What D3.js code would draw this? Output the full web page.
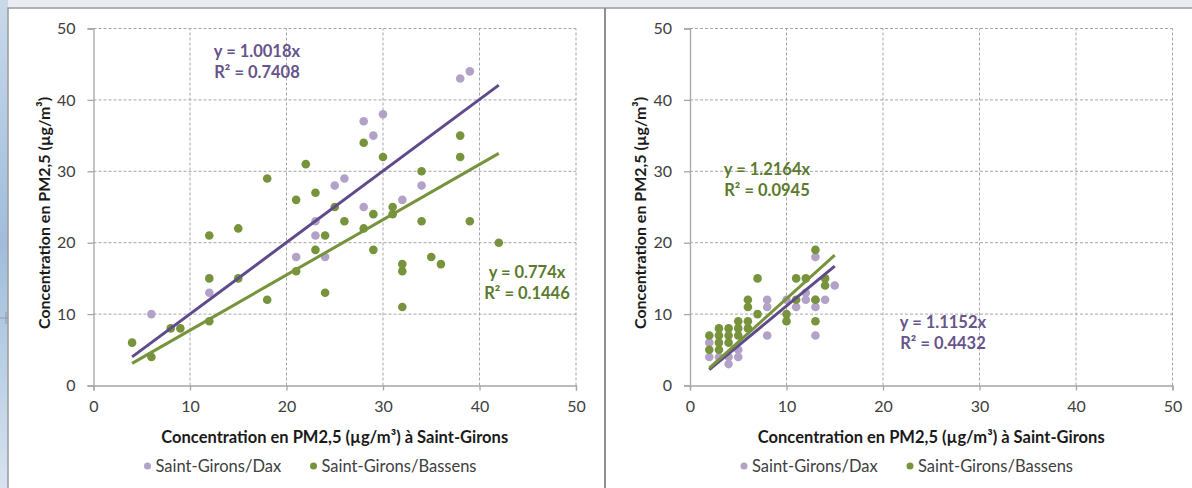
<!DOCTYPE html>
<html>
<head>
<meta charset="utf-8">
<script src="https://cdn.jsdelivr.net/npm/d3@7"></script>
<style>
  body { margin: 0; background: #fff; }
  svg { display: block; font-family: Lato, "Open Sans", sans-serif; }
</style>
</head>
<body>
<div id="chart"></div>
<script>
// series names
const seriesNames = ['Saint-Girons/Dax', 'Saint-Girons/Bassens'];
const ticks = [0, 10, 20, 30, 40, 50];

// left panel : [Saint-Girons, other site]
const leftDax = [[6,10],[12,13],[21,18],[23,21],[23,23],[24,18],[25,28],[26,29],[28,25],
  [28,37],[29,35],[30,38],[32,26],[34,28],[38,43],[39,44]];
const leftBassens = [[4,6],[6,4],[8,8],[9,8],[12,9],[12,15],[12,21],[15,15],[15,22],[18,12],
  [18,29],[21,16],[21,26],[22,31],[23,19],[23,27],[24,13],[24,21],[25,25],[26,23],[28,22],
  [28,34],[29,19],[29,24],[30,32],[31,24],[31,25],[32,11],[32,16],[32,17],[34,23],[34,30],
  [35,18],[36,17],[38,32],[38,35],[39,23],[42,20]];
const leftSlopes = [1.0018, 0.774];
const leftR2 = ['0.7408', '0.1446'];

// right panel
const rightDax = [[2,6],[2,4],[3,4],[4,4],[4,3],[5,5],[5,4],[8,12],[8,11],[8,7],[10,12],
  [11,11],[12,12],[12,13],[13,18],[13,12],[13,11],[13,7],[14,12],[15,14]];
const rightBassens = [[2,7],[2,5],[3,8],[3,7],[3,6],[3,5],[4,8],[4,7],[4,6],[5,9],[5,8],[5,7],
  [6,12],[6,11],[6,9],[6,8],[7,15],[7,10],[10,10],[10,9],[11,15],[11,12],[12,15],[13,19],
  [13,12],[13,9],[14,15],[14,14]];
const rightSlopes = [1.1152, 1.2164];
const rightR2 = ['0.4432', '0.0945'];

const dotColors = ['#b3a2c7', '#77933c'];
const lineColors = ['#5f4b8b', '#77933c'];
const textColors = ['#66548a', '#5c7a2c'];

const W = 1192, H = 488;
const svg = d3.select('#chart').append('svg')
  .attr('width', W).attr('height', H);

// window background bits around the frames
const grad = svg.append('defs').append('linearGradient')
  .attr('id', 'sky').attr('x1', 0).attr('x2', 0).attr('y1', 0).attr('y2', 1);
grad.append('stop').attr('offset', '0%').attr('stop-color', '#c9d9ea');
grad.append('stop').attr('offset', '50%').attr('stop-color', '#9fbddb');
grad.append('stop').attr('offset', '100%').attr('stop-color', '#d7e3ef');
svg.append('rect').attr('x', 0).attr('y', 0).attr('width', W).attr('height', 8).attr('fill', '#e9edf2');
svg.append('rect').attr('x', 0).attr('y', 0).attr('width', 8).attr('height', H).attr('fill', 'url(#sky)');
svg.append('path').attr('d', 'M0,318H12M6,312V324').attr('stroke', '#8a9bb0').attr('stroke-width', 1);
svg.append('rect').attr('x', 8).attr('y', 8).attr('width', W - 6).attr('height', H + 10)
  .attr('fill', '#fff').attr('stroke', '#9a9a9a').attr('stroke-width', 1.5);
svg.append('line').attr('x1', 605).attr('x2', 605).attr('y1', 8).attr('y2', H)
  .attr('stroke', '#8f8f8f').attr('stroke-width', 2);

function drawPanel(cfg) {
  const x = d3.scaleLinear().domain([0, 50]).range([cfg.x0, cfg.x0 + 482.5]);
  const y = d3.scaleLinear().domain([0, 50]).range([385.5, 28.5]);
  const g = svg.append('g');

  // grid
  g.selectAll('.gx').data(ticks.slice(1)).join('line')
    .attr('x1', d => x(d)).attr('x2', d => x(d)).attr('y1', y(0)).attr('y2', y(50))
    .attr('stroke', '#a6a6a6').attr('stroke-dasharray', '3,2');
  g.selectAll('.gy').data(ticks.slice(1)).join('line')
    .attr('x1', x(0)).attr('x2', x(50)).attr('y1', d => y(d)).attr('y2', d => y(d))
    .attr('stroke', '#a6a6a6').attr('stroke-dasharray', '3,2');

  // axes
  const xAxis = g.append('g').attr('transform', `translate(0,${y(0)})`)
    .call(d3.axisBottom(x).tickValues(ticks).tickSize(5).tickPadding(10));
  const yAxis = g.append('g').attr('transform', `translate(${x(0)},0)`)
    .call(d3.axisLeft(y).tickValues(ticks).tickSize(6).tickPadding(12));
  [xAxis, yAxis].forEach(a => {
    a.selectAll('path, line').attr('stroke', '#a6a6a6').attr('stroke-width', 1.3);
    a.selectAll('text').attr('fill', '#404040').attr('font-size', 16).attr('font-family', 'Lato, sans-serif');
  });

  // trend lines over the panel x range
  const xr = d3.extent(cfg.series.flat(), d => d[0]);
  cfg.series.forEach((s, i) => {
    g.selectAll(null).data(s).join('circle')
      .attr('cx', d => x(d[0])).attr('cy', d => y(d[1])).attr('r', 4.3)
      .attr('fill', dotColors[i]);
  });
  cfg.series.forEach((s, i) => {
    g.append('line')
      .attr('x1', x(xr[0])).attr('y1', y(xr[0] * cfg.slopes[i]))
      .attr('x2', x(xr[1])).attr('y2', y(xr[1] * cfg.slopes[i]))
      .attr('stroke', lineColors[i]).attr('stroke-width', 3);
  });

  // equations
  cfg.labels.forEach((p, i) => {
    const t = g.append('text').attr('text-anchor', 'middle')
      .attr('font-weight', 700).attr('font-size', 16.5).attr('fill', textColors[i]);
    t.append('tspan').attr('x', p[0]).attr('y', p[1]).text(`y = ${cfg.slopes[i]}x`);
    t.append('tspan').attr('x', p[0]).attr('y', p[1] + 21).text(`R² = ${cfg.r2[i]}`);
  });

  // axis titles
  g.append('text').attr('x', (x(0) + x(50)) / 2).attr('y', 443)
    .attr('text-anchor', 'middle').attr('font-weight', 700).attr('font-size', 16.5).attr('fill', '#1a1a1a')
    .text('Concentration en PM2,5 (µg/m³) à Saint-Girons');
  g.append('text')
    .attr('transform', `translate(${x(0) - 44},${(y(0) + y(50)) / 2 + 6}) rotate(-90)`)
    .attr('text-anchor', 'middle').attr('font-weight', 700).attr('font-size', 16).attr('fill', '#1a1a1a')
    .text('Concentration en PM2,5 (µg/m³)');

  // legend
  const lg = g.append('g').attr('transform', `translate(${cfg.x0 + 54},466)`);
  seriesNames.forEach((n, i) => {
    const item = lg.append('g').attr('transform', `translate(${i * 166},0)`);
    item.append('circle').attr('r', 3.5).attr('fill', dotColors[i]);
    item.append('text').attr('x', 8).attr('y', 5.5).attr('font-size', 16.5).attr('fill', '#404040').text(n);
  });
}

drawPanel({ x0: 93.5, series: [leftDax, leftBassens], slopes: leftSlopes, r2: leftR2,
  labels: [[257, 57], [527, 278]] });
drawPanel({ x0: 690, series: [rightDax, rightBassens], slopes: rightSlopes, r2: rightR2,
  labels: [[943, 328], [767, 175]] });
</script>
</body>
</html>
